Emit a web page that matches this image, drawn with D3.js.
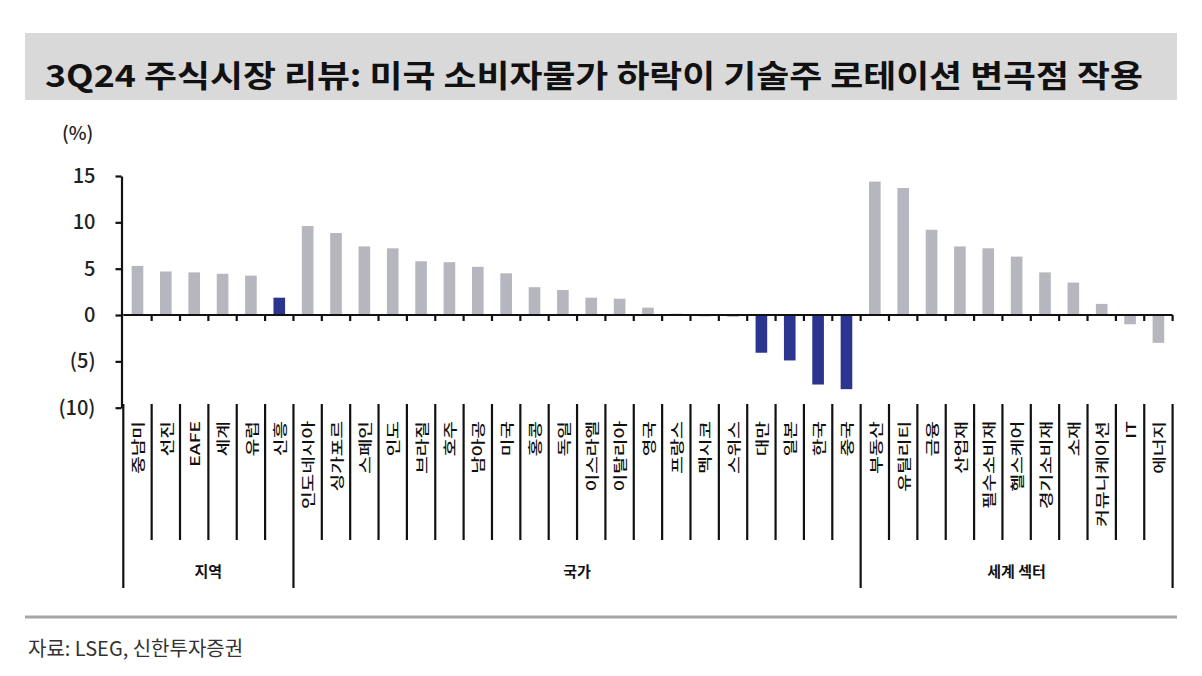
<!DOCTYPE html>
<html><head><meta charset="utf-8">
<script src="https://cdn.jsdelivr.net/npm/d3@7"></script>
<style>body{margin:0;background:#fff}svg{display:block}</style>
</head><body>
<svg id="c" width="1202" height="676"></svg>
<script>
const titleText = "3Q24 주식시장 리뷰: 미국 소비자물가 하락이 기술주 로테이션 변곡점 작용";
const sourceText = "자료: LSEG, 신한투자증권";
const unitText = "(%)";
const regions = ["중남미","선진","EAFE","세계","유럽","신흥"];
const regionValues = [5.3,4.7,4.6,4.45,4.25,1.87];
const countries = ["인도네시아","싱가포르","스페인","인도","브라질","호주","남아공","미국","홍콩","독일","이스라엘","이탈리아","영국","프랑스","멕시코","스위스","대만","일본","한국","중국"];
const countryValues = [9.6,8.85,7.4,7.2,5.8,5.7,5.2,4.5,3.0,2.7,1.87,1.76,0.8,0.15,-0.15,-0.2,-4.07,-4.9,-7.5,-8.0];
const sectors = ["부동산","유틸리티","금융","산업재","필수소비재","헬스케어","경기소비재","소재","커뮤니케이션","IT","에너지"];
const sectorValues = [14.4,13.7,9.2,7.4,7.2,6.3,4.6,3.5,1.2,-1.0,-3.0];
const highlighted = ["신흥","대만","일본","한국","중국"];
const groupNames = ["지역","국가","세계 섹터"];
const yTicks = [15,10,5,0,-5,-10];

const groupsData = [
  {name: groupNames[0], cats: regions, vals: regionValues},
  {name: groupNames[1], cats: countries, vals: countryValues},
  {name: groupNames[2], cats: sectors, vals: sectorValues}
];
const data = [];
groupsData.forEach(g => g.cats.forEach((c,i)=>data.push({cat:c, val:g.vals[i], group:g.name})));

const svg = d3.select("#c");
const FONT = "'Noto Sans CJK KR','Noto Sans',sans-serif";

// title bar
svg.append("rect").attr("x",25).attr("y",33).attr("width",1152).attr("height",67).attr("fill","#d9d9d9");
svg.append("text").attr("x",45).attr("y",87).text(titleText)
  .attr("font-family",FONT).attr("font-weight",700).attr("font-size",31).attr("fill","#111")
  .attr("textLength",1098).attr("lengthAdjust","spacingAndGlyphs");

const x = d3.scaleBand().domain(data.map(d=>d.cat)).range([123.3,1172.6]).padding(0);
const y = d3.scaleLinear().domain([-10,15]).range([407.7,176]);
const bw = x.bandwidth();
const barW = bw*0.41;

// unit
svg.append("text").attr("x",62).attr("y",140).text(unitText)
  .attr("font-family",FONT).attr("font-weight",500).attr("font-size",19).attr("fill","#222");

// bars
svg.append("g").selectAll("rect").data(data).join("rect")
  .attr("x",d=>x(d.cat)+(bw-barW)/2)
  .attr("y",d=>y(Math.max(0,d.val)))
  .attr("width",barW)
  .attr("height",d=>Math.abs(y(d.val)-y(0)))
  .attr("fill",d=>highlighted.includes(d.cat)?"#2b3590":"#b6b6be");

// y axis
const yAxis = svg.append("g").attr("transform","translate(121.5,0)")
  .call(d3.axisLeft(y).tickValues(yTicks).tickSize(6).tickSizeOuter(0).tickPadding(20)
    .tickFormat(d=>d<0?`(${-d})`:`${d}`));
yAxis.select(".domain").attr("stroke","#111").attr("stroke-width",2.2);
yAxis.selectAll(".tick line").attr("stroke","#111").attr("stroke-width",2.2);
yAxis.selectAll(".tick text").attr("font-family",FONT).attr("font-weight",500).attr("font-size",20).attr("fill","#222");

// x axis at zero
const bounds = data.map(d=>x(d.cat)).concat([x.range()[1]]);
svg.append("line").attr("x1",x.range()[0]).attr("x2",x.range()[1])
  .attr("y1",y(0)).attr("y2",y(0)).attr("stroke","#111").attr("stroke-width",2.2);
svg.append("g").selectAll("line").data(bounds.slice(1)).join("line")
  .attr("x1",d=>d).attr("x2",d=>d).attr("y1",y(0)).attr("y2",y(0)+6)
  .attr("stroke","#111").attr("stroke-width",2.2);

// separator lines
const groupBoundIdx = [0, regions.length, regions.length+countries.length, data.length];
svg.append("g").selectAll("line").data(bounds).join("line")
  .attr("x1",d=>d).attr("x2",d=>d)
  .attr("y1",404)
  .attr("y2",(d,i)=>groupBoundIdx.includes(i)?588:540)
  .attr("stroke","#111").attr("stroke-width",2.2);

// category labels
svg.append("g").selectAll("text").data(data).join("text")
  .attr("transform",d=>`translate(${x(d.cat)+bw/2},421) rotate(-90) scale(1.42,1)`)
  .attr("text-anchor","end").attr("dominant-baseline","central")
  .attr("font-family",FONT).attr("font-weight",500).attr("font-size",13.5).attr("fill","#111")
  .text(d=>d.cat);

// group labels
groupNames.forEach((g,i)=>{
  const a = bounds[groupBoundIdx[i]], b = bounds[groupBoundIdx[i+1]];
  svg.append("text").attr("x",(a+b)/2).attr("y",577).attr("text-anchor","middle")
    .attr("font-family",FONT).attr("font-weight",600).attr("font-size",15).attr("fill","#111").text(g);
});

// footer
svg.append("line").attr("x1",25).attr("x2",1177).attr("y1",617).attr("y2",617)
  .attr("stroke","#a6a6a6").attr("stroke-width",3);
svg.append("text").attr("x",28).attr("y",656).text(sourceText)
  .attr("font-family",FONT).attr("font-size",20).attr("fill","#333");
</script>
</body></html>
